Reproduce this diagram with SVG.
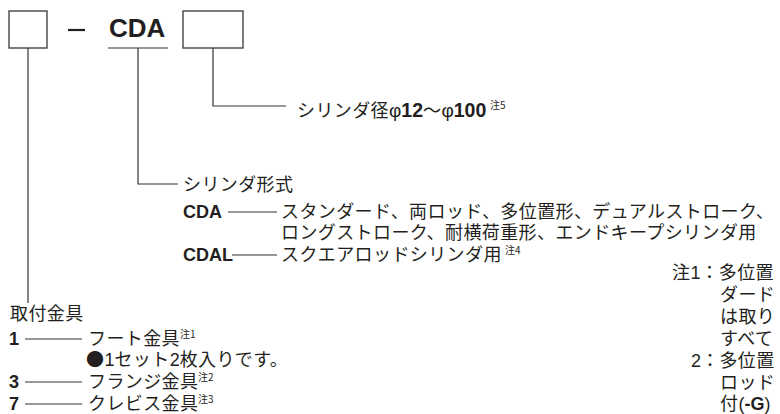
<svg xmlns="http://www.w3.org/2000/svg" width="780" height="414" viewBox="0 0 780 414">
<style>
.bg{fill:#fff}
.box{fill:none;stroke:#444;stroke-width:1.4}
.ln{stroke:#333;stroke-width:1.2;fill:none}
.jp{font-family:"Noto Sans CJK JP","Noto Sans",sans-serif;font-size:18px;fill:#231f20;letter-spacing:0.4px}
.lb{font-family:"Liberation Sans",Arial,sans-serif;font-weight:bold;font-size:18px;fill:#231f20;letter-spacing:0}
.lr{font-family:"Liberation Sans",Arial,sans-serif;font-size:18px;fill:#231f20;letter-spacing:0}
.sup{font-family:"Noto Sans CJK JP","Noto Sans",sans-serif;font-size:10px;fill:#231f20}
</style>
<rect class="bg" x="0" y="0" width="780" height="414"/>

<g id="code">
  <rect id="box-mount" class="box" x="9" y="11" width="38" height="37"/>
  <line x1="68" y1="30" x2="85" y2="30" stroke="#231f20" stroke-width="2.2"/>
  <text id="cda-code" class="lb" x="109" y="37" style="font-size:26px" letter-spacing="0.5">CDA</text>
  <rect id="box-bore" class="box" x="183" y="11" width="60" height="37"/>
</g>

<g id="connectors">
  <line class="ln" x1="108" y1="48" x2="168" y2="48"/>
  <polyline class="ln" points="28,48 28,303"/>
  <polyline class="ln" points="138,48 138,184 178,184"/>
  <polyline class="ln" points="213,48 213,106 286,106"/>
  <line class="ln" x1="228" y1="212" x2="277" y2="212"/>
  <line class="ln" x1="232" y1="255" x2="277" y2="255"/>
  <line class="ln" x1="25" y1="339" x2="82" y2="339"/>
  <line class="ln" x1="25" y1="382" x2="82" y2="382"/>
  <line class="ln" x1="25" y1="404" x2="82" y2="404"/>
</g>

<g id="bore">
  <text class="jp" x="297" y="117" letter-spacing="-0.4">シリンダ径<tspan class="lr" style="font-size:19px">φ</tspan><tspan class="lb" style="font-size:19.5px">12</tspan>～<tspan class="lr" style="font-size:19px">φ</tspan><tspan class="lb" style="font-size:19.5px">100</tspan></text>
  <text class="sup" x="490" y="109">注5</text>
</g>

<g id="cylinder-type">
  <text class="jp" x="183" y="191">シリンダ形式</text>
  <text class="lb" x="183" y="218">CDA</text>
  <text class="jp" x="281" y="218">スタンダード、両ロッド、多位置形、デュアルストローク、</text>
  <text class="jp" x="281" y="239">ロングストローク、耐横荷重形、エンドキープシリンダ用</text>
  <text class="lb" x="183" y="261">CDAL</text>
  <text class="jp" x="281" y="261">スクエアロッドシリンダ用</text>
  <text class="sup" x="505" y="254">注4</text>
</g>

<g id="mounting">
  <text class="jp" x="10" y="320">取付金具</text>
  <text class="lb" x="9" y="345">1</text>
  <text class="jp" x="88" y="345">フート金具</text>
  <text class="sup" x="180" y="338">注1</text>
  <text class="jp" x="86" y="366">●<tspan class="lr">1</tspan>セット<tspan class="lr">2</tspan>枚入りです。</text>
  <text class="lb" x="9" y="388">3</text>
  <text class="jp" x="88" y="388">フランジ金具</text>
  <text class="sup" x="198" y="381">注2</text>
  <text class="lb" x="9" y="410">7</text>
  <text class="jp" x="88" y="410">クレビス金具</text>
  <text class="sup" x="198" y="403">注3</text>
</g>

<g id="notes">
  <text class="jp" x="672" y="279">注<tspan class="lr">1</tspan>：多位置</text>
  <text class="jp" x="720" y="301">ダード</text>
  <text class="jp" x="720" y="323">は取り</text>
  <text class="jp" x="720" y="345">すべて</text>
  <text class="jp" x="691" y="367"><tspan class="lr">2</tspan>：多位置</text>
  <text class="jp" x="720" y="389">ロッド</text>
  <text class="jp" x="720" y="410">付<tspan class="lr">(</tspan><tspan class="lb">-G</tspan><tspan class="lr">)</tspan></text>
</g>
</svg>
